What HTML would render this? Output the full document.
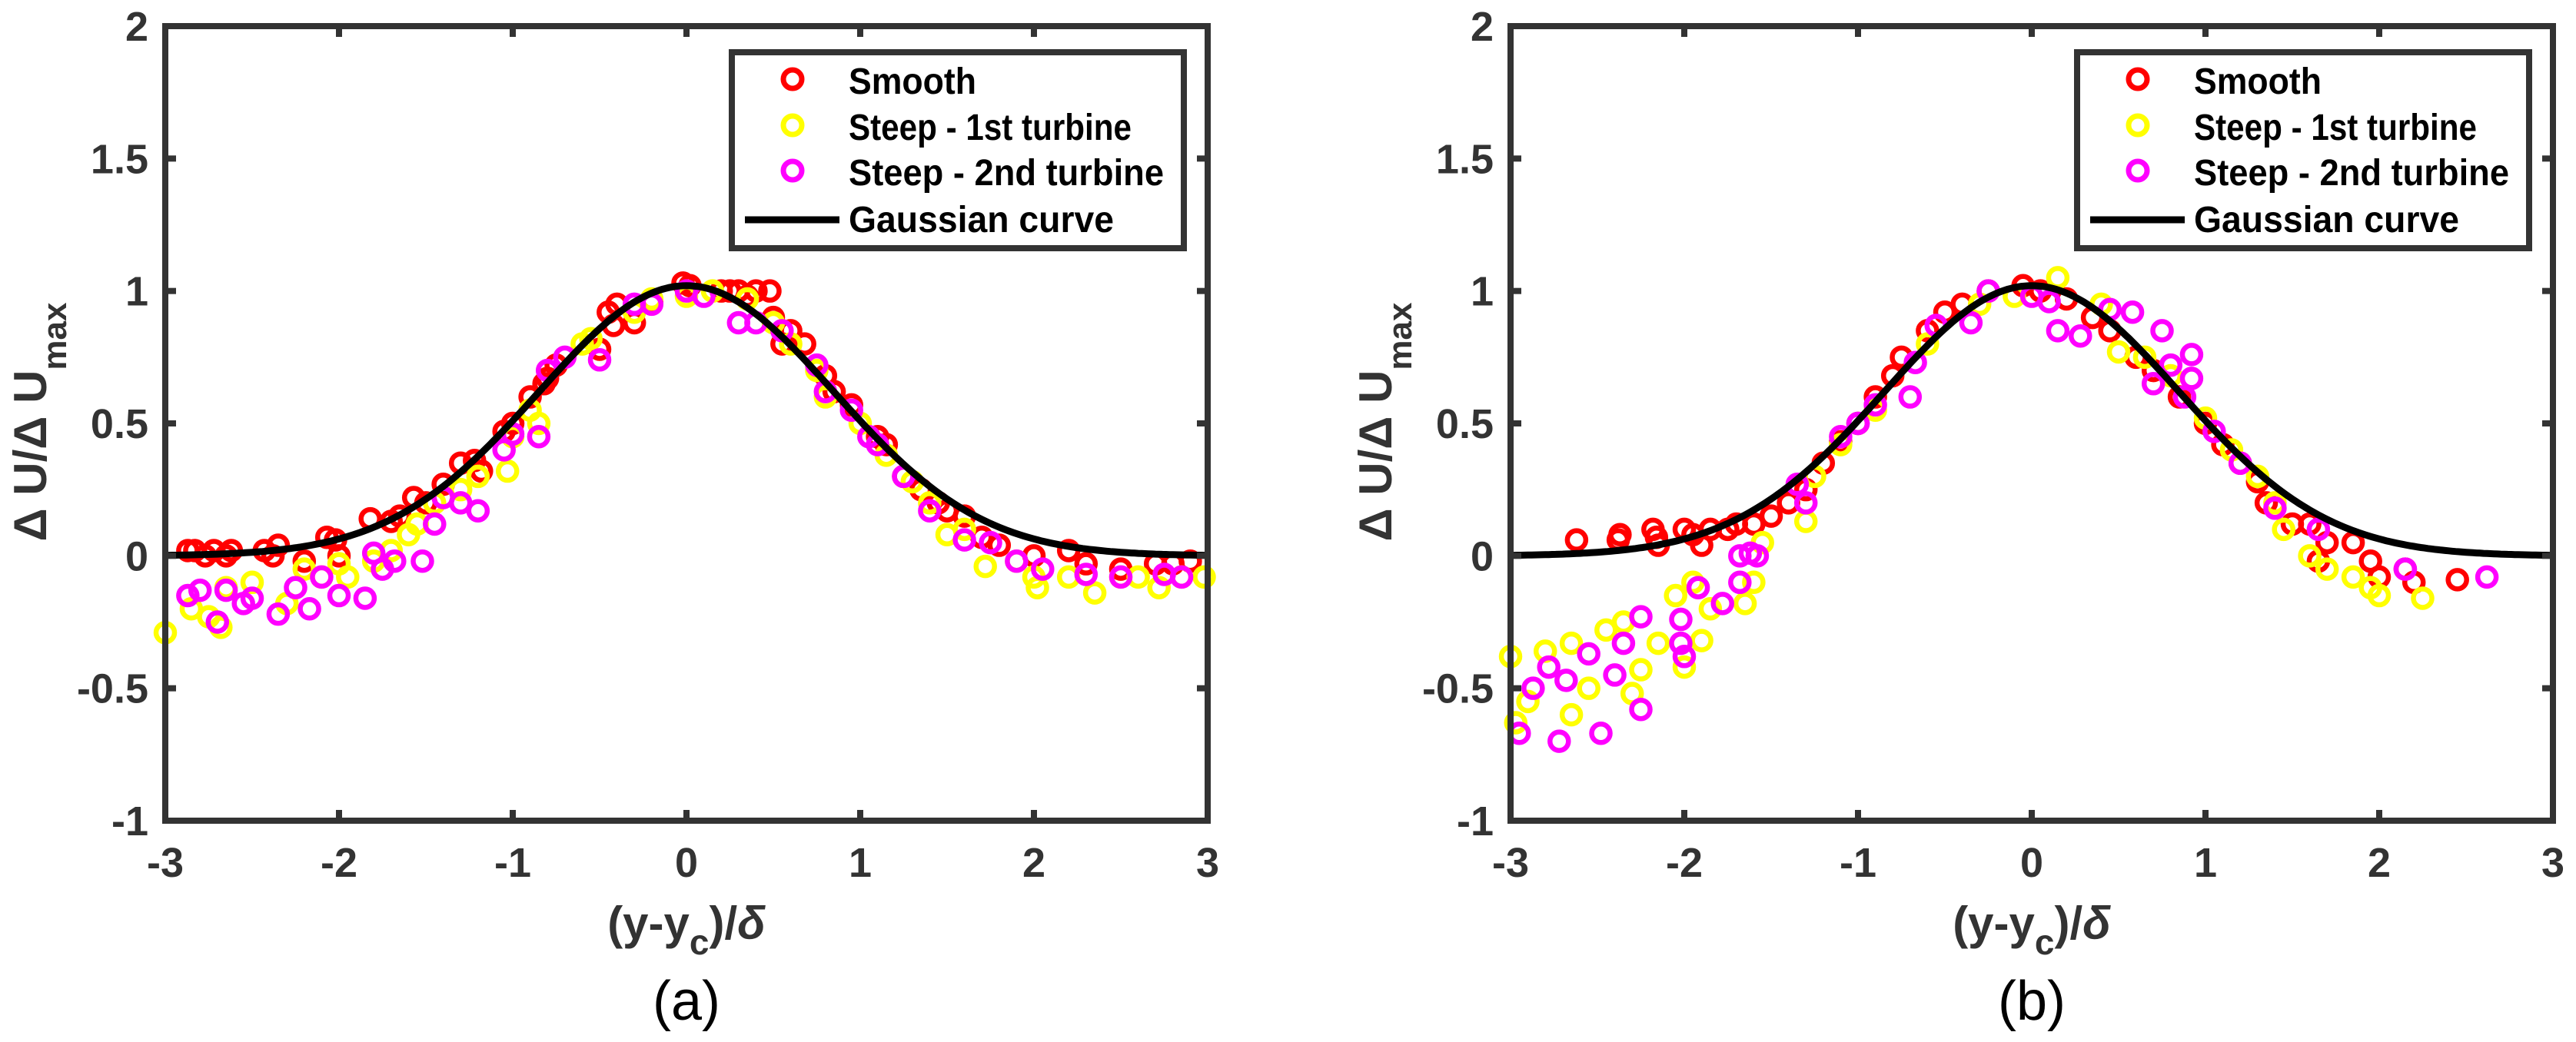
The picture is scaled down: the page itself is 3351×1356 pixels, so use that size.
<!DOCTYPE html>
<html><head><meta charset="utf-8">
<style>
html,body{margin:0;padding:0;background:#fff;}
svg{display:block;}
text{font-family:"Liberation Sans",sans-serif;}
</style></head>
<body>
<svg id="fig" width="3351" height="1356" viewBox="0 0 3351 1356" xmlns="http://www.w3.org/2000/svg">
<rect width="3351" height="1356" fill="#fff"/>
</svg>
<script>
// ---------- data ----------
const xTicks = [-3,-2,-1,0,1,2,3];
const yTicks = [-1,-0.5,0,0.5,1,1.5,2];
const yTickLabels = ["-1","-0.5","0","0.5","1","1.5","2"];
const seriesNames = ["Smooth","Steep - 1st turbine","Steep - 2nd turbine"];
const gaussAmp = 1.02;
const gaussK = 0.693;

const aSmoothX = [-2.87,-2.83,-2.77,-2.72,-2.65,-2.62,-2.43,-2.38,-2.35,-2.2,-2.07,-2.02,-2.0,-1.82,-1.7,-1.65,-1.57,-1.5,-1.4,-1.3,-1.22,-1.18,-1.05,-1.0,-0.9,-0.82,-0.8,-0.75,-0.5,-0.45,-0.4,-0.42,-0.3,-0.2,-0.02,0.02,0.2,0.25,0.3,0.35,0.4,0.48,0.5,0.55,0.6,0.68,0.8,0.85,0.95,1.1,1.15,1.25,1.35,1.45,1.5,1.6,1.7,1.8,2.0,2.2,2.3,2.5,2.7,2.8,2.9];
const aSmoothY = [0.02,0.02,0.0,0.02,0.0,0.02,0.02,0.0,0.04,-0.02,0.07,0.06,0.0,0.14,0.13,0.15,0.22,0.2,0.27,0.35,0.36,0.32,0.47,0.5,0.6,0.65,0.67,0.72,0.78,0.92,0.95,0.87,0.88,0.96,1.03,1.02,1.0,1.0,1.0,0.98,1.0,1.0,0.9,0.8,0.85,0.8,0.68,0.62,0.57,0.45,0.42,0.3,0.25,0.2,0.17,0.15,0.07,0.04,0.0,0.02,-0.03,-0.05,-0.03,-0.03,-0.02];
const aSteep1X = [-3.0,-2.85,-2.75,-2.68,-2.65,-2.5,-2.3,-2.2,-2.1,-2.0,-1.95,-1.8,-1.7,-1.6,-1.55,-1.45,-1.3,-1.2,-1.03,-1.0,-0.9,-0.85,-0.6,-0.55,-0.3,-0.2,0.0,0.15,0.35,0.5,0.6,0.75,0.8,1.0,1.15,1.3,1.4,1.5,1.6,1.72,1.9,2.0,2.02,2.2,2.35,2.5,2.6,2.72,2.85,2.98];
const aSteep1Y = [-0.29,-0.2,-0.23,-0.27,-0.12,-0.1,-0.18,-0.05,-0.08,-0.03,-0.08,-0.02,0.02,0.08,0.12,0.2,0.25,0.3,0.32,0.45,0.55,0.5,0.8,0.82,0.92,0.97,0.98,1.0,0.97,0.88,0.8,0.7,0.6,0.5,0.38,0.28,0.2,0.08,0.1,-0.04,-0.02,-0.08,-0.12,-0.08,-0.14,-0.08,-0.08,-0.12,-0.08,-0.08];
const aSteep2X = [-2.87,-2.8,-2.7,-2.65,-2.55,-2.5,-2.35,-2.25,-2.17,-2.1,-2.0,-1.85,-1.8,-1.75,-1.68,-1.52,-1.45,-1.4,-1.3,-1.2,-1.05,-1.0,-0.85,-0.8,-0.7,-0.5,-0.3,-0.2,0.0,0.1,0.3,0.4,0.55,0.75,0.8,0.95,1.05,1.1,1.25,1.4,1.6,1.75,1.9,2.05,2.3,2.5,2.75,2.85];
const aSteep2Y = [-0.15,-0.13,-0.25,-0.13,-0.18,-0.16,-0.22,-0.12,-0.2,-0.08,-0.15,-0.16,0.01,-0.05,-0.02,-0.02,0.12,0.22,0.2,0.17,0.4,0.46,0.45,0.7,0.75,0.74,0.95,0.95,1.0,0.98,0.88,0.88,0.85,0.72,0.62,0.55,0.45,0.42,0.3,0.17,0.06,0.05,-0.02,-0.05,-0.07,-0.08,-0.07,-0.08];

const bSmoothX = [-2.62,-2.38,-2.37,-2.18,-2.16,-2.15,-2.0,-1.95,-1.9,-1.85,-1.75,-1.7,-1.6,-1.5,-1.4,-1.3,-1.2,-1.1,-1.0,-0.9,-0.8,-0.75,-0.6,-0.5,-0.4,-0.25,-0.05,0.05,0.2,0.35,0.45,0.6,0.7,0.85,1.0,1.1,1.2,1.3,1.35,1.5,1.6,1.65,1.7,1.85,1.95,2.0,2.15,2.2,2.45];
const bSmoothY = [0.06,0.06,0.08,0.1,0.07,0.04,0.1,0.08,0.04,0.1,0.1,0.12,0.12,0.15,0.2,0.25,0.35,0.43,0.5,0.6,0.68,0.75,0.85,0.92,0.95,1.0,1.02,1.0,0.97,0.9,0.85,0.75,0.7,0.6,0.5,0.42,0.35,0.28,0.2,0.12,0.12,-0.02,0.05,0.05,-0.02,-0.08,-0.05,-0.1,-0.09];
const bSteep1X = [-3.0,-2.97,-2.9,-2.8,-2.65,-2.65,-2.55,-2.45,-2.35,-2.3,-2.25,-2.15,-2.05,-2.0,-1.95,-1.9,-1.85,-1.65,-1.6,-1.55,-1.3,-1.25,-1.1,-0.9,-0.6,-0.3,-0.1,0.15,0.4,0.5,0.65,0.8,1.0,1.15,1.3,1.4,1.45,1.6,1.7,1.85,1.95,2.0,2.25];
const bSteep1Y = [-0.38,-0.63,-0.55,-0.36,-0.33,-0.6,-0.5,-0.28,-0.25,-0.52,-0.43,-0.33,-0.15,-0.42,-0.1,-0.32,-0.2,-0.18,-0.1,0.05,0.13,0.3,0.42,0.55,0.8,0.95,0.98,1.05,0.95,0.77,0.75,0.68,0.52,0.4,0.3,0.2,0.1,0.0,-0.05,-0.08,-0.12,-0.15,-0.16];
const bSteep2X = [-2.95,-2.87,-2.78,-2.68,-2.72,-2.55,-2.48,-2.4,-2.35,-2.25,-2.25,-2.02,-2.02,-2.0,-1.92,-1.78,-1.68,-1.68,-1.62,-1.58,-1.35,-1.3,-1.1,-1.0,-0.9,-0.7,-0.67,-0.55,-0.35,-0.25,0.0,0.1,0.15,0.28,0.45,0.58,0.75,0.8,0.7,0.88,0.92,0.92,1.05,1.2,1.4,1.65,2.15,2.62];
const bSteep2Y = [-0.67,-0.5,-0.42,-0.47,-0.7,-0.37,-0.67,-0.45,-0.33,-0.23,-0.58,-0.33,-0.24,-0.38,-0.12,-0.18,-0.1,0.0,0.01,0.0,0.27,0.2,0.45,0.5,0.57,0.6,0.73,0.87,0.88,1.0,0.98,0.96,0.85,0.83,0.93,0.92,0.85,0.72,0.65,0.6,0.76,0.67,0.47,0.35,0.18,0.1,-0.05,-0.08];

// ---------- drawing ----------
const NS = "http://www.w3.org/2000/svg";
const svg = document.getElementById('fig');
const AX = {w:1356, top:34, bottom:1068, xmin:-3, xmax:3, ymin:-1, ymax:2};
const AXC = "#333333";
const COLORS = ["#ff0000","#ffff00","#ff00ff"];
function mk(tag, attrs, parent){
  const e = document.createElementNS(NS, tag);
  for (const k in attrs) e.setAttribute(k, attrs[k]);
  (parent||svg).appendChild(e);
  return e;
}
function drawPanel(left, label, sets, pname){
  const g = mk('g', {});
  
  
  const sx = v => left + (v-AX.xmin)/(AX.xmax-AX.xmin)*AX.w;
  const sy = v => AX.bottom - (v-AX.ymin)/(AX.ymax-AX.ymin)*(AX.bottom-AX.top);
  const right = left + AX.w;
  sets.forEach((s, i) => {
    const sg = mk('g', {}, g);
    
    
    s[0].forEach((xv, j) => {
      const c = mk('circle', {cx:sx(xv), cy:sy(s[1][j]), r:12, fill:'none', stroke:COLORS[i], 'stroke-width':6.5}, sg);
      
      
    });
  });
  let d = '';
  for (let k=0;k<=300;k++){
    const xv = AX.xmin + (AX.xmax-AX.xmin)*k/300;
    const yv = gaussAmp*Math.exp(-gaussK*xv*xv);
    d += (k?'L':'M') + sx(xv).toFixed(1) + ' ' + sy(yv).toFixed(1);
  }
  const gl = mk('path', {d:d, fill:'none', stroke:'#000', 'stroke-width':9}, g);
  
  
  const box = mk('rect', {x:left, y:AX.top, width:AX.w, height:AX.bottom-AX.top, fill:'none', stroke:AXC, 'stroke-width':8}, g);
  
  
  xTicks.forEach(t => {
    const x = sx(t);
    mk('line', {x1:x, y1:AX.bottom, x2:x, y2:AX.bottom-14, stroke:AXC, 'stroke-width':8}, g);
    mk('line', {x1:x, y1:AX.top, x2:x, y2:AX.top+14, stroke:AXC, 'stroke-width':8}, g);
    const tx = mk('text', {x:x, y:1141, 'text-anchor':'middle', 'font-size':54, 'font-weight':'bold', fill:AXC}, g);
    tx.textContent = String(t);
    
    
  });
  yTicks.forEach((t, i) => {
    const y = sy(t);
    mk('line', {x1:left, y1:y, x2:left+14, y2:y, stroke:AXC, 'stroke-width':8}, g);
    mk('line', {x1:right, y1:y, x2:right-14, y2:y, stroke:AXC, 'stroke-width':8}, g);
    const ty = mk('text', {x:left-22, y:y+19, 'text-anchor':'end', 'font-size':54, 'font-weight':'bold', fill:AXC}, g);
    ty.textContent = yTickLabels[i];
    
    
  });
  const off = left - 215;
  const yl = mk('text', {transform:'translate(' + (60+off) + ',549) rotate(-90)', 'text-anchor':'middle', 'font-size':60, 'font-weight':'bold', fill:AXC}, g);
  
  
  const t1 = mk('tspan', {}, yl); t1.textContent = 'Δ U/Δ U';
  const t2 = mk('tspan', {dy:26, 'font-size':44}, yl); t2.textContent = 'max';
  const xl = mk('text', {x:left+678, y:1222, 'text-anchor':'middle', 'font-size':60, 'font-weight':'bold', fill:AXC}, g);
  
  
  const a1 = mk('tspan', {}, xl); a1.textContent = '(y-y';
  const a2 = mk('tspan', {dy:20, 'font-size':46}, xl); a2.textContent = 'c';
  const a3 = mk('tspan', {dy:-20}, xl); a3.textContent = ')/';
  const a4 = mk('tspan', {'font-style':'italic'}, xl); a4.textContent = 'δ';
  const pl = mk('text', {x:left+678, y:1327, 'text-anchor':'middle', 'font-size':72, fill:'#000'}, g);
  pl.textContent = label;
  
  
  const lg = mk('g', {}, g);
  
  
  const lx = 952 + off;
  mk('rect', {x:lx, y:68, width:588, height:255, fill:'#fff', stroke:AXC, 'stroke-width':8}, lg);
  const rows = [103,163,222];
  seriesNames.forEach((n, i) => {
    const e = mk('g', {}, lg);
    
    
    mk('circle', {cx:lx+79, cy:rows[i], r:12, fill:'none', stroke:COLORS[i], 'stroke-width':7}, e);
    const widths = [166, 368, 410];
    const tt = mk('text', {x:lx+152, y:rows[i]+19, 'font-size':48, 'font-weight':'bold', fill:'#000', textLength:widths[i], lengthAdjust:'spacingAndGlyphs'}, e);
    tt.textContent = n;
  });
  const e4 = mk('g', {}, lg);
  
  
  mk('line', {x1:lx+17, y1:286, x2:lx+140, y2:286, stroke:'#000', 'stroke-width':9}, e4);
  const t4 = mk('text', {x:lx+152, y:302, 'font-size':48, 'font-weight':'bold', fill:'#000', textLength:345, lengthAdjust:'spacingAndGlyphs'}, e4);
  t4.textContent = 'Gaussian  curve';
}
drawPanel(215, '(a)', [[aSmoothX,aSmoothY],[aSteep1X,aSteep1Y],[aSteep2X,aSteep2Y]], 'panel-a');
drawPanel(1965, '(b)', [[bSmoothX,bSmoothY],[bSteep1X,bSteep1Y],[bSteep2X,bSteep2Y]], 'panel-b');
</script>
</body></html>
